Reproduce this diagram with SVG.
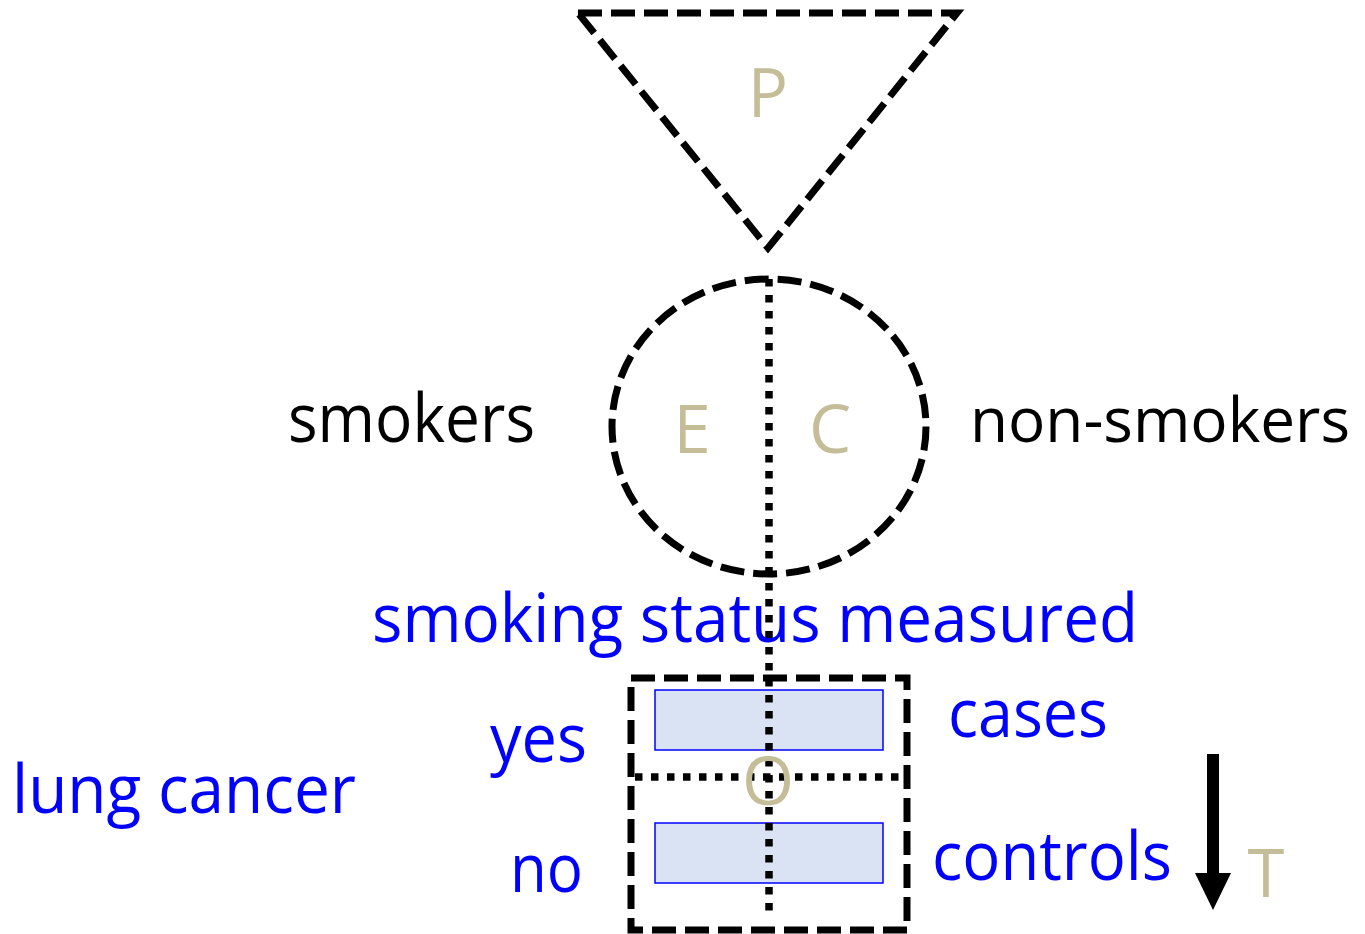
<svg xmlns="http://www.w3.org/2000/svg" width="1365" height="934" viewBox="0 0 1365 934">
<defs>
<style>
.dash{fill:none;stroke:#000;stroke-width:7;stroke-dasharray:24 9}
.dot{fill:none;stroke:#000;stroke-width:7.5;stroke-dasharray:7.5 8.5}
.lbl{font-family:"Open Sans","Noto Sans",sans-serif;font-size:67px}
.blk{fill:#000}
.blu{fill:#0000ff}
.tan{fill:#c4bd97}
.bar{fill:#dae3f3;stroke:#0000ff;stroke-width:1.5}
</style>
</defs>
<rect width="1365" height="934" fill="#fff"/>
<g id="population">
<polygon class="dash" points="578,13 957,13 768,248"/>
<text class="lbl tan" x="768" y="117" text-anchor="middle">P</text>
</g>
<g id="groups">
<ellipse class="dash" cx="769" cy="426.5" rx="157" ry="147.5"/>
<text class="lbl tan" x="692" y="453" text-anchor="middle">E</text>
<text class="lbl tan" x="830" y="453" text-anchor="middle">C</text>
</g>
<g id="outcome">
<rect class="dash" x="631" y="678" width="276" height="252"/>
<rect class="bar" x="655" y="690" width="228" height="60"/>
<rect class="bar" x="655" y="823" width="228" height="60"/>
</g>
<g id="connectors">
<line class="dot" x1="769" y1="279" x2="769" y2="911"/>
<line class="dot" x1="635" y1="777" x2="902" y2="777"/>
<line x1="1213" y1="754" x2="1213" y2="876" stroke="#000" stroke-width="12"/>
<polygon points="1195,873 1231,873 1213,910" fill="#000"/>
</g>
<g id="labels">
<text class="lbl tan" x="768" y="805" text-anchor="middle">O</text>
<text class="lbl blk" x="288" y="442" textLength="247" lengthAdjust="spacingAndGlyphs">smokers</text>
<text class="lbl blk" x="970" y="442" font-size="62" style="font-size:62px" textLength="380" lengthAdjust="spacingAndGlyphs">non-smokers</text>
<text class="lbl blu" x="372" y="642" textLength="766" lengthAdjust="spacingAndGlyphs">smoking status measured</text>
<text class="lbl blu" x="490" y="762" textLength="97" lengthAdjust="spacingAndGlyphs">yes</text>
<text class="lbl blu" x="12" y="813" textLength="344" lengthAdjust="spacingAndGlyphs">lung cancer</text>
<text class="lbl blu" x="510" y="892" textLength="73" lengthAdjust="spacingAndGlyphs">no</text>
<text class="lbl blu" x="948" y="737" textLength="160" lengthAdjust="spacingAndGlyphs">cases</text>
<text class="lbl blu" x="932" y="880" textLength="240" lengthAdjust="spacingAndGlyphs">controls</text>
<text class="lbl tan" x="1266" y="897" text-anchor="middle">T</text>
</g>
</svg>
